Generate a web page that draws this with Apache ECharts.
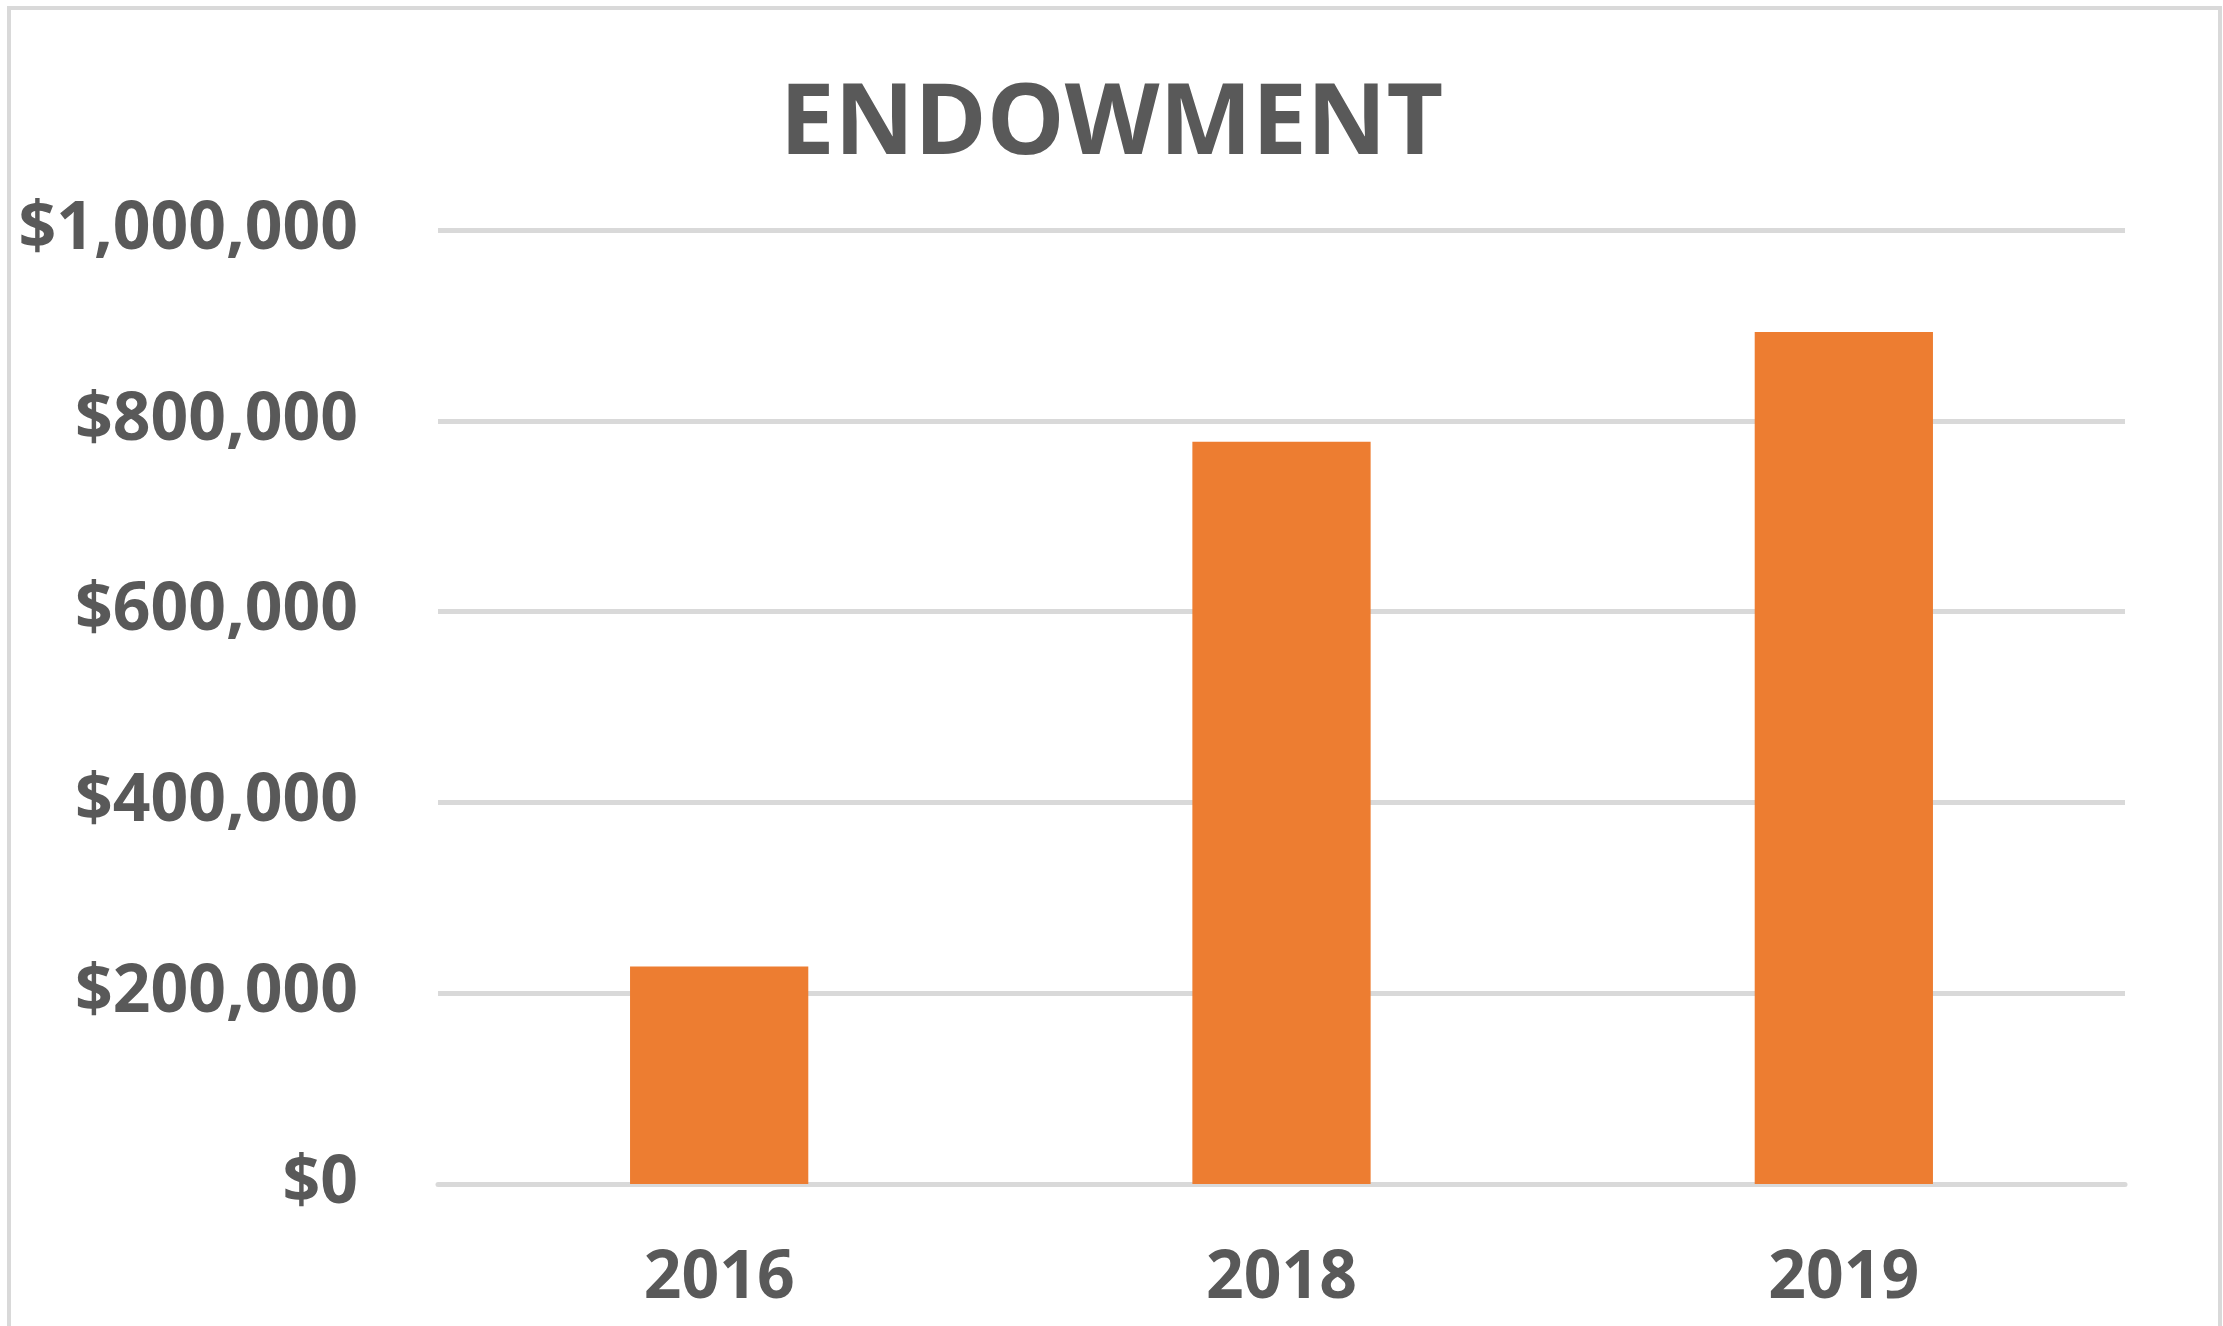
<!DOCTYPE html>
<html>
<head>
<meta charset="utf-8">
<script src="https://cdn.jsdelivr.net/npm/echarts@6/dist/echarts.min.js"></script>
<style>
  html, body { margin: 0; padding: 0; background: #fff; }
  #chart { width: 2223px; height: 1326px; }
</style>
</head>
<body>
<div id="chart"></div>
<script>
// data
const years = ['2016', '2018', '2019']
const endowment = [228000, 778000, 893000]
const yMin = 0
const yMax = 1000000
const yStep = 200000

const textColor = '#595959'
const fontFamily = '"Open Sans", "Noto Sans", sans-serif'

const chart = echarts.init(document.getElementById('chart'))

const fmtMoney = (v) => '$' + Number(v).toLocaleString('en-US')

chart.setOption({
  backgroundColor: '#fff',
  animation: false,
  title: {
    text: 'ENDOWMENT',
    left: 'center',
    top: 72,
    textStyle: {
      color: textColor,
      fontFamily: fontFamily,
      fontWeight: 'bold',
      fontSize: 98
    }
  },
  // light outer frame of the chart box
  graphic: [{
    type: 'rect',
    shape: { x: 9, y: 8, width: 2211, height: 1400 },
    style: { fill: 'none', stroke: '#d9d9d9', lineWidth: 4 },
    silent: true
  }],
  grid: {
    left: 438,
    right: 98,
    top: 230,
    bottom: 142
  },
  xAxis: {
    type: 'category',
    data: years,
    axisLine: { show: true, lineStyle: { color: '#d9d9d9', width: 5 } },
    axisTick: { show: false },
    axisLabel: {
      margin: 62,
      color: textColor,
      fontFamily: fontFamily,
      fontWeight: 'bold',
      fontSize: 66
    }
  },
  yAxis: {
    type: 'value',
    min: yMin,
    max: yMax,
    interval: yStep,
    axisLine: { show: false },
    axisTick: { show: false },
    splitLine: { lineStyle: { color: '#d9d9d9', width: 5 } },
    axisLabel: {
      margin: 80,
      color: textColor,
      fontFamily: fontFamily,
      fontWeight: 'bold',
      fontSize: 66,
      formatter: fmtMoney
    }
  },
  series: [{
    type: 'bar',
    data: endowment,
    barWidth: '31.7%',
    itemStyle: { color: '#ed7d31' }
  }]
})
</script>
</body>
</html>
